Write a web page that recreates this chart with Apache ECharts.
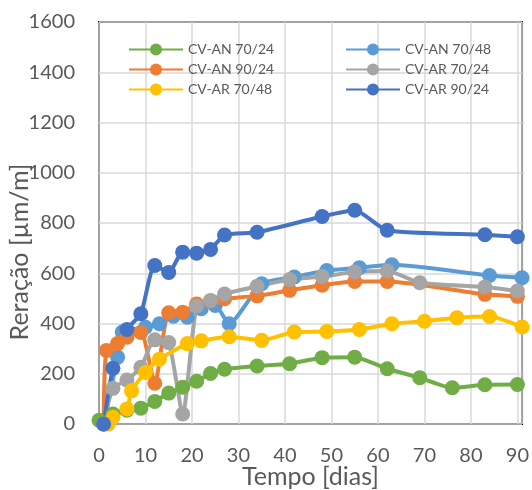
<!DOCTYPE html>
<html>
<head>
<meta charset="utf-8">
<script src="https://cdn.jsdelivr.net/npm/echarts@6/dist/echarts.min.js"></script>
<style>
  html, body { margin: 0; padding: 0; background: #fff; }
  #chart { width: 532px; height: 490px; }
</style>
</head>
<body>
<div id="chart"></div>
<script>
// Expansion curves: days vs. strain (µm/m)
const seriesNames = ['CV-AN 70/24', 'CV-AN 70/48', 'CV-AN 90/24', 'CV-AR 70/24', 'CV-AR 70/48', 'CV-AR 90/24'];
const seriesColors = ['#70AD47', '#5B9BD5', '#ED7D31', '#A5A5A5', '#FFC000', '#4472C4'];

const anDias70_24 = [0, 3, 6, 9, 12, 15, 18, 21, 24, 27, 34, 41, 48, 55, 62, 69, 76, 83, 90];
const an70_24 = [15, 40, 55, 63, 90, 123, 146, 170, 201, 218, 231, 240, 264, 266, 220, 184, 144, 156, 157];

const anDias70_48 = [1, 4, 5, 10, 13, 16, 19, 22, 25, 28, 35, 42, 49, 56, 63, 84, 91];
const an70_48 = [0, 266, 366, 385, 399, 429, 425, 459, 472, 399, 558, 585, 611, 622, 634, 591, 582];

const anDias90_24 = [1, 1.6, 4, 6, 9, 12, 15, 18, 21, 24, 27, 34, 41, 48, 55, 62, 83, 90];
const an90_24 = [0, 293, 320, 345, 364, 162, 443, 445, 478, 490, 499, 510, 532, 552, 567, 567, 516, 508];

const arDias70_24 = [1, 3, 6, 9, 12, 15, 18, 21, 24, 27, 34, 41, 48, 55, 62, 69, 83, 90];
const ar70_24 = [0, 142, 175, 226, 335, 324, 40, 470, 492, 517, 548, 575, 587, 605, 609, 562, 545, 529];

const arDias70_48 = [2, 3, 6, 7, 10, 13, 19, 22, 28, 35, 42, 49, 56, 63, 70, 77, 84, 91];
const ar70_48 = [0, 27, 60, 132, 205, 258, 320, 331, 347, 333, 366, 368, 376, 399, 409, 423, 428, 386];

const arDias90_24 = [1, 3, 6, 9, 12, 15, 18, 21, 24, 27, 34, 48, 55, 62, 83, 90];
const ar90_24 = [0, 222, 376, 439, 631, 603, 684, 680, 695, 752, 763, 826, 851, 771, 753, 745];

const xTicks = [0, 10, 20, 30, 40, 50, 60, 70, 80, 90];
const yTicks = [0, 200, 400, 600, 800, 1000, 1200, 1400, 1600];

const xTitle = 'Tempo [dias]';
const yTitle = 'Reração [µm/m]';

const allX = [anDias70_24, anDias70_48, anDias90_24, arDias70_24, arDias70_48, arDias90_24];
const allY = [an70_24, an70_48, an90_24, ar70_24, ar70_48, ar90_24];

const FONT = 'Lato, "Open Sans", sans-serif';
const TEXT = '#595959';

const series = seriesNames.map((name, i) => ({
  name: name,
  type: 'line',
  data: allX[i].map((d, k) => [d, allY[i][k]]),
  smooth: 0.2,
  clip: false,
  symbol: 'circle',
  symbolSize: 15,
  showAllSymbol: true,
  lineStyle: { width: 4, color: seriesColors[i] },
  itemStyle: { color: seriesColors[i] },
  emphasis: { disabled: true }
}));

const legendBase = {
  orient: 'vertical',
  top: 42,
  padding: 0,
  itemWidth: 54,
  itemHeight: 15,
  itemGap: 5,
  textStyle: { fontFamily: FONT, fontSize: 14, color: TEXT, lineHeight: 15 }
};

const chart = echarts.init(document.getElementById('chart'), null, { renderer: 'canvas' });
chart.setOption({
  animation: false,
  color: seriesColors,
  grid: {
    left: 99, top: 22, right: 9, bottom: 66,
    show: true, borderColor: '#000', borderWidth: 2, backgroundColor: 'transparent'
  },
  legend: [
    Object.assign({}, legendBase, { left: 128, data: [seriesNames[0], seriesNames[2], seriesNames[4]] }),
    Object.assign({}, legendBase, { left: 345, data: [seriesNames[1], seriesNames[3], seriesNames[5]] })
  ],
  xAxis: {
    type: 'value',
    min: 0, max: 91, interval: 10,
    axisLine: { show: false },
    axisTick: { show: false },
    splitLine: { show: true, lineStyle: { color: '#D9D9D9', width: 1.5 } },
    axisLabel: {
      margin: 22,
      fontFamily: FONT, fontSize: 20, color: TEXT,
      showMaxLabel: false,
      formatter: v => (xTicks.indexOf(v) >= 0 ? String(v) : '')
    }
  },
  yAxis: {
    type: 'value',
    min: 0, max: 1600, interval: 200,
    axisLine: { show: false },
    axisTick: { show: false },
    splitLine: { show: true, lineStyle: { color: '#D9D9D9', width: 1.5 } },
    axisLabel: {
      margin: 24,
      fontFamily: FONT, fontSize: 20, color: TEXT,
      formatter: v => (yTicks.indexOf(v) >= 0 ? String(v) : '')
    }
  },
  graphic: [
    {
      type: 'text', x: 310.5, y: 477,
      style: { text: xTitle, fontFamily: FONT, fontSize: 25, fill: TEXT, align: 'center', verticalAlign: 'middle' }
    },
    {
      type: 'text', x: 20, y: 252, rotation: Math.PI / 2,
      style: { text: yTitle, fontFamily: FONT, fontSize: 25, fill: TEXT, align: 'center', verticalAlign: 'middle' }
    }
  ],
  series: series
});
</script>
</body>
</html>
